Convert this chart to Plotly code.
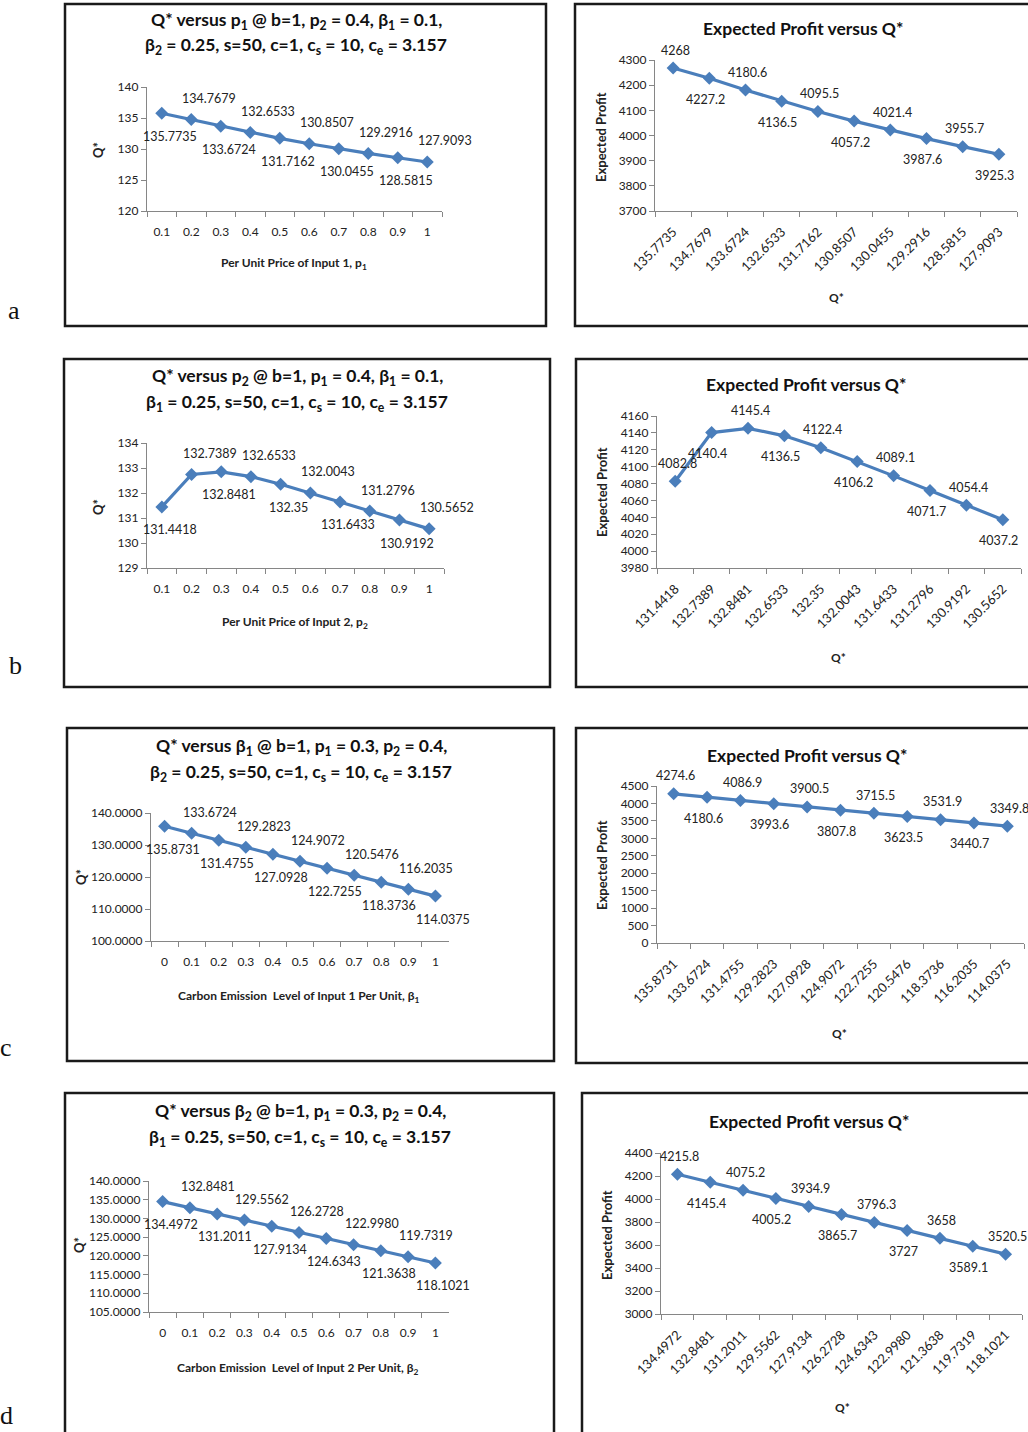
import plotly.graph_objects as go

W, H = 1028, 1432

# ---------------- data ----------------
p_levels = ["0.1", "0.2", "0.3", "0.4", "0.5", "0.6", "0.7", "0.8", "0.9", "1"]
beta_levels = ["0", "0.1", "0.2", "0.3", "0.4", "0.5", "0.6", "0.7", "0.8", "0.9", "1"]

q_vs_p1 = [135.7735, 134.7679, 133.6724, 132.6533, 131.7162, 130.8507, 130.0455, 129.2916, 128.5815, 127.9093]
profit_a = [4268, 4227.2, 4180.6, 4136.5, 4095.5, 4057.2, 4021.4, 3987.6, 3955.7, 3925.3]

q_vs_p2 = [131.4418, 132.7389, 132.8481, 132.6533, 132.35, 132.0043, 131.6433, 131.2796, 130.9192, 130.5652]
profit_b = [4082.8, 4140.4, 4145.4, 4136.5, 4122.4, 4106.2, 4089.1, 4071.7, 4054.4, 4037.2]

q_vs_beta1 = [135.8731, 133.6724, 131.4755, 129.2823, 127.0928, 124.9072, 122.7255, 120.5476, 118.3736, 116.2035, 114.0375]
profit_c = [4274.6, 4180.6, 4086.9, 3993.6, 3900.5, 3807.8, 3715.5, 3623.5, 3531.9, 3440.7, 3349.8]

q_vs_beta2 = [134.4972, 132.8481, 131.2011, 129.5562, 127.9134, 126.2728, 124.6343, 122.9980, 121.3638, 119.7319, 118.1021]
profit_d = [4215.8, 4145.4, 4075.2, 4005.2, 3934.9, 3865.7, 3796.3, 3727, 3658, 3589.1, 3520.5]


def g(v):
    return "{:.10g}".format(v)


def f4(v):
    return "{:.4f}".format(v)


# ---------------- styling ----------------
FONT = "Lato, 'Open Sans', Roboto, sans-serif"
LINE = "#4A7EBB"
AXC = "#868686"
TXT = "#222222"


def fx(px):
    return px / W


def fy(py):
    return 1 - py / H


fig = go.Figure()
annotations = []
shapes = []

panels = [
    dict(x=p_levels, y=q_vs_p1, fmt=g, dom=(147, 442, 87, 211), rng=(120, 140), dt=5, tf="",
         even_above=False, rot=False,
         title=["Q* versus p<sub>1</sub> @ b=1, p<sub>2</sub> = 0.4, β<sub>1</sub> = 0.1,",
                "β<sub>2</sub> = 0.25, s=50, c=1, c<sub>s</sub> = 10, c<sub>e</sub> = 3.157"],
         tpos=(296, 21, 46), xt="Per Unit Price of Input 1, p<sub>1</sub>", xtpos=(294, 264),
         yt="Q*", ytpos=(98, 150), box=(65, 4, 546, 326)),
    dict(x=[g(v) for v in q_vs_p1], y=profit_a, fmt=g, dom=(655, 1017, 60, 211), rng=(3700, 4300), dt=100, tf="",
         even_above=True, rot=True,
         title=["Expected Profit versus Q*"], tpos=(803, 29),
         xt="Q*", xtpos=(836, 298), yt="Expected Profit", ytpos=(601, 137), box=(575, 4, 1040, 326)),
    dict(x=p_levels, y=q_vs_p2, fmt=g, dom=(147, 444, 443, 568), rng=(129, 134), dt=1, tf="",
         even_above=False, rot=False,
         title=["Q* versus p<sub>2</sub> @ b=1, p<sub>1</sub> = 0.4, β<sub>1</sub> = 0.1,",
                "β<sub>1</sub> = 0.25, s=50, c=1, c<sub>s</sub> = 10, c<sub>e</sub> = 3.157"],
         tpos=(297, 377, 403), xt="Per Unit Price of Input 2, p<sub>2</sub>", xtpos=(295, 622),
         yt="Q*", ytpos=(98, 507), box=(64, 359, 550, 687)),
    dict(x=[g(v) for v in q_vs_p2], y=profit_b, fmt=g, dom=(657, 1021, 416, 568), rng=(3980, 4160), dt=20, tf="",
         even_above=True, rot=True,
         title=["Expected Profit versus Q*"], tpos=(806, 385),
         xt="Q*", xtpos=(838, 657), yt="Expected Profit", ytpos=(602, 492), box=(576, 359, 1040, 687)),
    dict(x=beta_levels, y=q_vs_beta1, fmt=f4, dom=(151, 449, 813, 941), rng=(100, 140), dt=10, tf=".4f",
         even_above=False, rot=False,
         title=["Q* versus β<sub>1</sub> @ b=1, p<sub>1</sub> = 0.3, p<sub>2</sub> = 0.4,",
                "β<sub>2</sub> = 0.25, s=50, c=1, c<sub>s</sub> = 10, c<sub>e</sub> = 3.157"],
         tpos=(301, 747, 773), xt="Carbon Emission  Level of Input 1 Per Unit, β<sub>1</sub>", xtpos=(299, 996),
         yt="Q*", ytpos=(81, 877), box=(67, 728, 554, 1061)),
    dict(x=[f4(v) for v in q_vs_beta1], y=profit_c, fmt=g, dom=(657, 1024, 786, 943), rng=(0, 4500), dt=500, tf="",
         even_above=True, rot=True,
         title=["Expected Profit versus Q*"], tpos=(807, 755),
         xt="Q*", xtpos=(839, 1033), yt="Expected Profit", ytpos=(602, 865), box=(576, 728, 1040, 1063)),
    dict(x=beta_levels, y=q_vs_beta2, fmt=f4, dom=(149, 449, 1181, 1312), rng=(105, 140), dt=5, tf=".4f",
         even_above=False, rot=False,
         title=["Q* versus β<sub>2</sub> @ b=1, p<sub>1</sub> = 0.3, p<sub>2</sub> = 0.4,",
                "β<sub>1</sub> = 0.25, s=50, c=1, c<sub>s</sub> = 10, c<sub>e</sub> = 3.157"],
         tpos=(300, 1112, 1138), xt="Carbon Emission  Level of Input 2 Per Unit, β<sub>2</sub>", xtpos=(298, 1368),
         yt="Q*", ytpos=(79, 1245), box=(65, 1093, 554, 1445)),
    dict(x=[f4(v) for v in q_vs_beta2], y=profit_d, fmt=g, dom=(661, 1022, 1153, 1314), rng=(3000, 4400), dt=200, tf="",
         even_above=True, rot=True,
         title=["Expected Profit versus Q*"], tpos=(809, 1121),
         xt="Q*", xtpos=(842, 1407), yt="Expected Profit", ytpos=(607, 1235), box=(582, 1093, 1040, 1445)),
]

layout_axes = {}
for i, pnl in enumerate(panels, start=1):
    xa = "x" if i == 1 else f"x{i}"
    ya = "y" if i == 1 else f"y{i}"
    xk = "xaxis" if i == 1 else f"xaxis{i}"
    yk = "yaxis" if i == 1 else f"yaxis{i}"
    x0, x1, yt_, yb_ = pnl["dom"]
    fig.add_trace(go.Scatter(
        x=pnl["x"], y=pnl["y"], xaxis=xa, yaxis=ya, mode="lines+markers",
        line=dict(color=LINE, width=3.2),
        marker=dict(symbol="diamond", size=10, color=LINE),
        showlegend=False, hoverinfo="skip"))
    layout_axes[xk] = dict(
        domain=[fx(x0), fx(x1)], anchor=ya, type="category", automargin=False,
        showline=True, linecolor=AXC, linewidth=1.2,
        ticks="outside", tickson="boundaries", ticklen=5, tickcolor=AXC,
        showgrid=False, zeroline=False,
        tickangle=-45 if pnl["rot"] else 0,
        ticklabelstandoff=7 if pnl["rot"] else 9,
        tickfont=dict(family=FONT, size=13 if pnl["rot"] else 12, color=TXT),
        range=[-0.5, len(pnl["x"]) - 0.5], fixedrange=True)
    layout_axes[yk] = dict(
        domain=[fy(yb_), fy(yt_)], anchor=xa, automargin=False,
        range=list(pnl["rng"]), dtick=pnl["dt"], tick0=pnl["rng"][0],
        tickformat=pnl["tf"],
        showline=True, linecolor=AXC, linewidth=1.2,
        ticks="outside", ticklen=5, tickcolor=AXC,
        showgrid=False, zeroline=False,
        tickfont=dict(family=FONT, size=12, color=TXT), fixedrange=True)

    # data labels (x given as category index)
    n = len(pnl["x"])
    for k in range(n):
        above = (k % 2 == 0) if pnl["even_above"] else (k % 2 == 1)
        if pnl["rot"]:
            xs, ys = (2, 18) if above else (-4, -21)
        else:
            xs, ys = (18, 21) if above else (8, -23)
        annotations.append(dict(
            x=k, y=pnl["y"][k], xref=xa, yref=ya,
            text=pnl["fmt"](pnl["y"][k]), showarrow=False,
            xshift=xs, yshift=ys,
            font=dict(family=FONT, size=12.5, color=TXT)))

    # titles
    tp = pnl["tpos"]
    for j, line in enumerate(pnl["title"]):
        annotations.append(dict(
            x=fx(tp[0]), y=fy(tp[1 + j]), xref="paper", yref="paper",
            text="<b>" + line + "</b>", showarrow=False,
            xanchor="center", yanchor="middle",
            font=dict(family=FONT, size=17.5, color="#111111")))
    # axis titles
    annotations.append(dict(
        x=fx(pnl["xtpos"][0]), y=fy(pnl["xtpos"][1]), xref="paper", yref="paper",
        text="<b>" + pnl["xt"] + "</b>", showarrow=False, xanchor="center", yanchor="middle",
        font=dict(family=FONT, size=12, color=TXT)))
    annotations.append(dict(
        x=fx(pnl["ytpos"][0]), y=fy(pnl["ytpos"][1]), xref="paper", yref="paper",
        text="<b>" + pnl["yt"] + "</b>", showarrow=False, xanchor="center", yanchor="middle",
        textangle=-90, font=dict(family=FONT, size=13, color=TXT)))
    # panel border
    bx0, by0, bx1, by1 = pnl["box"]
    shapes.append(dict(type="rect", xref="paper", yref="paper",
                       x0=fx(bx0), x1=fx(bx1), y0=fy(by1), y1=fy(by0),
                       line=dict(color="#1a1a1a", width=2.5), fillcolor="rgba(0,0,0,0)",
                       layer="below"))

# panel letters
for letter, (lx, ly) in zip(["a", "b", "c", "d"], [(14, 310), (15, 665), (6, 1047), (6, 1415)]):
    annotations.append(dict(
        x=fx(lx), y=fy(ly), xref="paper", yref="paper", text=letter, showarrow=False,
        xanchor="center", yanchor="middle",
        font=dict(family="'Liberation Serif', 'DejaVu Serif', serif", size=26, color="#111111")))

fig.update_layout(
    width=W, height=H, margin=dict(l=0, r=0, t=0, b=0, autoexpand=False),
    paper_bgcolor="white", plot_bgcolor="white",
    annotations=annotations, shapes=shapes, showlegend=False,
    **layout_axes)

fig.write_html("out.html", config={"displayModeBar": False})
